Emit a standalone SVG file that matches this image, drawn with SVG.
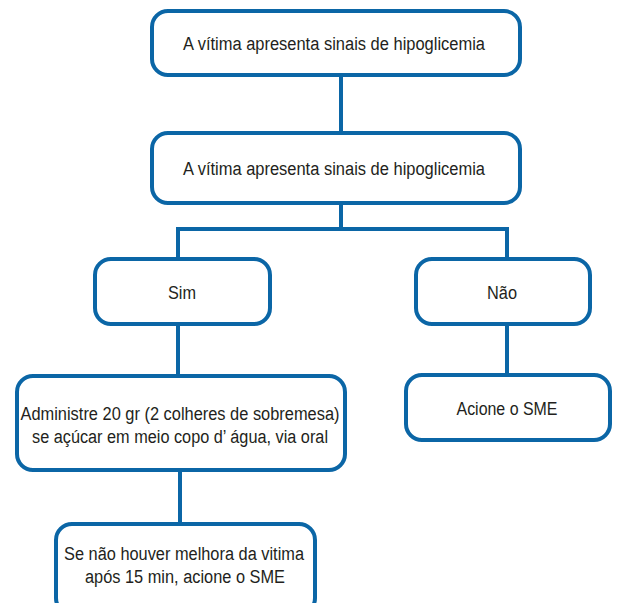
<svg xmlns="http://www.w3.org/2000/svg" width="622" height="603" viewBox="0 0 622 603">
<style>
.box{fill:#fff;stroke:#0b66a6;stroke-width:4}
.ln{fill:none;stroke:#0b66a6;stroke-width:4}
text{font-family:"Liberation Sans",Arial,sans-serif;font-size:18px;fill:#231f20;text-anchor:middle}
</style>
<rect width="622" height="603" fill="#fff"/>
<g id="connectors">
<path class="ln" d="M341 75V132"/>
<path class="ln" d="M341 203V229M178 229H507M178 227V258M507 227V258"/>
<path class="ln" d="M178 325V375"/>
<path class="ln" d="M507 325V375"/>
<path class="ln" d="M180 470V523"/>
</g>
<g id="n1"><rect class="box" x="152" y="11" width="368" height="64" rx="16"/><text x="334" y="50" textLength="302" lengthAdjust="spacingAndGlyphs">A vítima apresenta sinais de hipoglicemia</text></g>
<g id="n2"><rect class="box" x="152" y="133" width="368" height="70" rx="16"/><text x="334" y="175" textLength="302" lengthAdjust="spacingAndGlyphs">A vítima apresenta sinais de hipoglicemia</text></g>
<g id="sim"><rect class="box" x="95" y="259" width="175" height="65" rx="16"/><text x="182" y="299" textLength="28" lengthAdjust="spacingAndGlyphs">Sim</text></g>
<g id="nao"><rect class="box" x="416" y="259" width="174" height="65" rx="16"/><text x="502" y="299" textLength="30" lengthAdjust="spacingAndGlyphs">Não</text></g>
<g id="admin"><rect class="box" x="17" y="376" width="328" height="94" rx="16"/><text x="180" y="420" textLength="319" lengthAdjust="spacingAndGlyphs">Administre 20 gr (2 colheres de sobremesa)</text><text x="180" y="443" textLength="296" lengthAdjust="spacingAndGlyphs">se açúcar em meio copo d’ água, via oral</text></g>
<g id="acione"><rect class="box" x="406" y="375" width="204" height="65" rx="16"/><text x="507" y="415" textLength="101" lengthAdjust="spacingAndGlyphs">Acione o SME</text></g>
<g id="melhora"><rect class="box" x="56" y="524" width="259" height="90" rx="16"/><text x="184" y="560" textLength="240" lengthAdjust="spacingAndGlyphs">Se não houver melhora da vitima</text><text x="185" y="583" textLength="200" lengthAdjust="spacingAndGlyphs">após 15 min, acione o SME</text></g>
</svg>
